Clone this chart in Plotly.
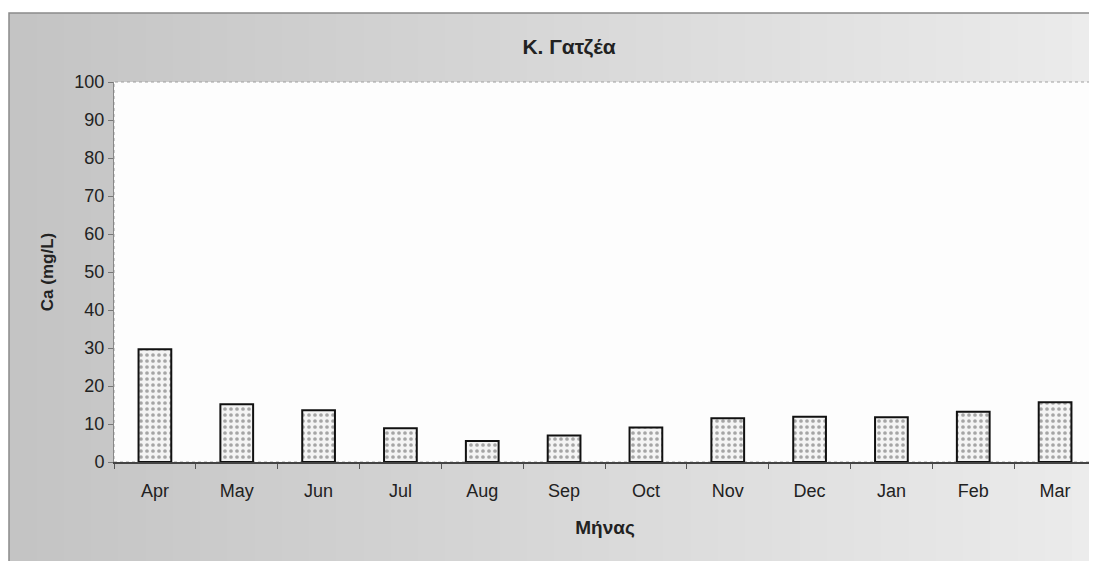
import plotly.graph_objects as go

months = ["Apr", "May", "Jun", "Jul", "Aug", "Sep", "Oct", "Nov", "Dec", "Jan", "Feb", "Mar"]
ca_values = [29.7, 15.2, 13.6, 8.9, 5.5, 7.0, 9.1, 11.5, 11.9, 11.8, 13.2, 15.7]
y_ticks = [0, 10, 20, 30, 40, 50, 60, 70, 80, 90, 100]

# page has an 8px body margin, so the figure is 16px smaller than the window
W, H = 1089, 553
L, R, T, B = 106, 1, 74, 99
pw, ph = W - L - R, H - T - B

def px(xf):
    return (xf - L) / pw

def py(yf):
    return 1 - (yf - T) / ph

fig = go.Figure()
fig.add_trace(go.Bar(
    x=months, y=ca_values,
    marker=dict(
        color="#f4f4f4",
        line=dict(color="#111111", width=2),
        pattern=dict(shape=".", fgcolor="#555555", bgcolor="#f4f4f4", size=6, solidity=0.3),
    ),
    hoverinfo="x+y",
))

shapes = []
n = 40
x0f, x1f = 1, W + 2
for i in range(n):
    t = i / (n - 1)
    g = int(196 + (236 - 196) * t)
    col = f"rgb({g},{g},{g})"
    a = x0f + (x1f - x0f) * i / n
    b = x0f + (x1f - x0f) * (i + 1) / n + 1
    shapes.append(dict(type="rect", xref="paper", yref="paper", layer="below",
                       x0=px(a), x1=px(b), y0=py(H + 5), y1=py(5),
                       fillcolor=col, line=dict(width=0)))
shapes.append(dict(type="rect", xref="paper", yref="paper", layer="below",
                   x0=px(1), x1=px(W + 3), y0=py(H + 5), y1=py(5),
                   fillcolor="rgba(0,0,0,0)", line=dict(color="#8a8a8a", width=1.5)))
shapes.append(dict(type="rect", xref="paper", yref="paper", layer="below",
                   x0=0, x1=1, y0=0, y1=1, fillcolor="#fdfdfd",
                   line=dict(color="#a0a0a0", width=1, dash="dot")))

fig.update_layout(
    width=W, height=H,
    margin=dict(l=L, r=R, t=T, b=B),
    paper_bgcolor="white",
    plot_bgcolor="rgba(0,0,0,0)",
    showlegend=False,
    bargap=0.6,
    shapes=shapes,
    title=dict(text="<b>Κ. Γατζέα</b>", x=px(561), xanchor="center", xref="paper",
               y=1 - 39 / H, yanchor="middle",
               font=dict(family="Liberation Sans, Arial", size=21, color="#222222")),
    font=dict(family="Liberation Sans, Arial", size=18, color="#222222"),
)
fig.update_xaxes(
    type="category", tickson="boundaries", ticks="outside", ticklen=5, tickcolor="#555",
    showline=True, linecolor="#444", linewidth=1.5, showgrid=False,
    ticklabelstandoff=12,
    tickfont=dict(family="Liberation Sans, Arial", size=18, color="#222"),
    title=dict(text="<b>Μήνας</b>", standoff=20,
               font=dict(family="Liberation Sans, Arial", size=19, color="#222")),
)
fig.update_yaxes(
    range=[0, 100], tickvals=y_ticks, ticks="outside", ticklen=5, tickcolor="#777",
    showline=True, linecolor="#888", linewidth=1, showgrid=False, zeroline=False,
    tickfont=dict(family="Liberation Sans, Arial", size=18, color="#222"),
    title=dict(text="<b>Ca (mg/L)</b>", standoff=16,
               font=dict(family="Liberation Sans, Arial", size=17, color="#222")),
)

fig.write_html("out.html")
